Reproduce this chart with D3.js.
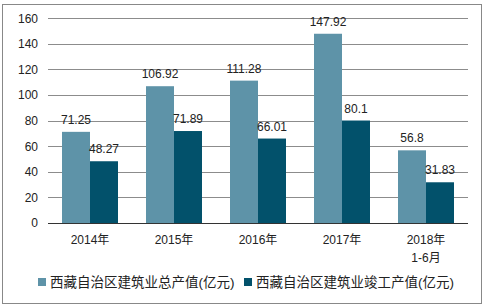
<!DOCTYPE html>
<html>
<head>
<meta charset="utf-8">
<script src="https://cdn.jsdelivr.net/npm/d3@7"></script>
<style>
  body { margin: 0; background: #fff; }
  text { font-family: "Liberation Sans", Arial, "Noto Sans CJK SC", sans-serif; }
</style>
</head>
<body>
<div id="chart"></div>
<script>
const categories = ["2014年", "2015年", "2016年", "2017年", "2018年\n1-6月"];
const totalOutput = [71.25, 106.92, 111.28, 147.92, 56.8];
const completedOutput = [48.27, 71.89, 66.01, 80.1, 31.83];
const seriesNames = ["西藏自治区建筑业总产值(亿元)", "西藏自治区建筑业竣工产值(亿元)"];
const yTicks = [0, 20, 40, 60, 80, 100, 120, 140, 160];

const width = 487, height = 307;
const margin = { left: 48, right: 19, top: 18, bottom: 84 };
const colors = ["#5e93a8", "#02516b"];

const svg = d3.select("#chart").append("svg")
  .attr("width", width)
  .attr("height", height);

// outer frame
svg.append("rect")
  .attr("x", 2.5).attr("y", 4.5)
  .attr("width", 479).attr("height", 299)
  .attr("fill", "none").attr("stroke", "#888");

const x = d3.scaleBand()
  .domain(categories)
  .range([margin.left, width - margin.right]);

const inner = d3.scaleBand()
  .domain([0, 1])
  .range([0, x.bandwidth()])
  .paddingOuter(0.5)
  .paddingInner(0);

const y = d3.scaleLinear()
  .domain([0, 160])
  .range([height - margin.bottom, margin.top + 0.3]);

// gridlines
svg.append("g")
  .selectAll("line")
  .data(yTicks.filter(d => d > 0))
  .enter().append("line")
  .attr("x1", margin.left).attr("x2", width - margin.right)
  .attr("y1", d => Math.round(y(d)) + 0.5).attr("y2", d => Math.round(y(d)) + 0.5)
  .attr("stroke", "#8c8c8c");

// y axis labels
const yAxis = svg.append("g")
  .attr("transform", `translate(${margin.left},0)`)
  .call(d3.axisLeft(y).tickValues(yTicks).tickSize(0).tickPadding(10));
yAxis.select(".domain").remove();
yAxis.selectAll("text").attr("font-size", 12).attr("fill", "#222");

const rows = categories.map((c, i) => ({ c, v: [totalOutput[i], completedOutput[i]] }));

const groups = svg.append("g").selectAll("g")
  .data(rows)
  .enter().append("g")
  .attr("transform", d => `translate(${x(d.c)},0)`);

groups.selectAll("rect")
  .data(d => d.v.map((v, k) => ({ v, k })))
  .enter().append("rect")
  .attr("x", d => inner(d.k))
  .attr("width", inner.bandwidth())
  .attr("y", d => y(d.v))
  .attr("height", d => y(0) - y(d.v))
  .attr("fill", d => colors[d.k]);

groups.selectAll("text.val")
  .data(d => d.v.map((v, k) => ({ v, k })))
  .enter().append("text")
  .attr("class", "val")
  .attr("x", d => inner(d.k) + inner.bandwidth() / 2)
  .attr("y", d => y(d.v) - 8)
  .attr("text-anchor", "middle")
  .attr("font-size", 12)
  .attr("fill", "#222")
  .text(d => d.v);

// baseline
svg.append("line")
  .attr("x1", margin.left).attr("x2", width - margin.right)
  .attr("y1", y(0) + 0.5).attr("y2", y(0) + 0.5)
  .attr("stroke", "#333");

// x labels
const xl = svg.append("g").selectAll("text")
  .data(categories)
  .enter().append("text")
  .attr("x", d => x(d) + x.bandwidth() / 2)
  .attr("y", y(0) + 21)
  .attr("text-anchor", "middle")
  .attr("font-size", 12)
  .attr("fill", "#222");
xl.selectAll("tspan")
  .data(d => d.split("\n"))
  .enter().append("tspan")
  .attr("x", function () { return d3.select(this.parentNode).attr("x"); })
  .attr("dy", (d, i) => i === 0 ? 0 : 18)
  .text(d => d);

// legend
const legendX = [38, 244];
const legend = svg.append("g").selectAll("g")
  .data(seriesNames)
  .enter().append("g")
  .attr("transform", (d, i) => `translate(${legendX[i]},278)`);
legend.append("rect")
  .attr("width", 8).attr("height", 8)
  .attr("fill", (d, i) => colors[i]);
legend.append("text")
  .attr("x", 12).attr("y", 9)
  .attr("font-size", 13.5)
  .attr("fill", "#222")
  .text(d => d);
</script>
</body>
</html>
